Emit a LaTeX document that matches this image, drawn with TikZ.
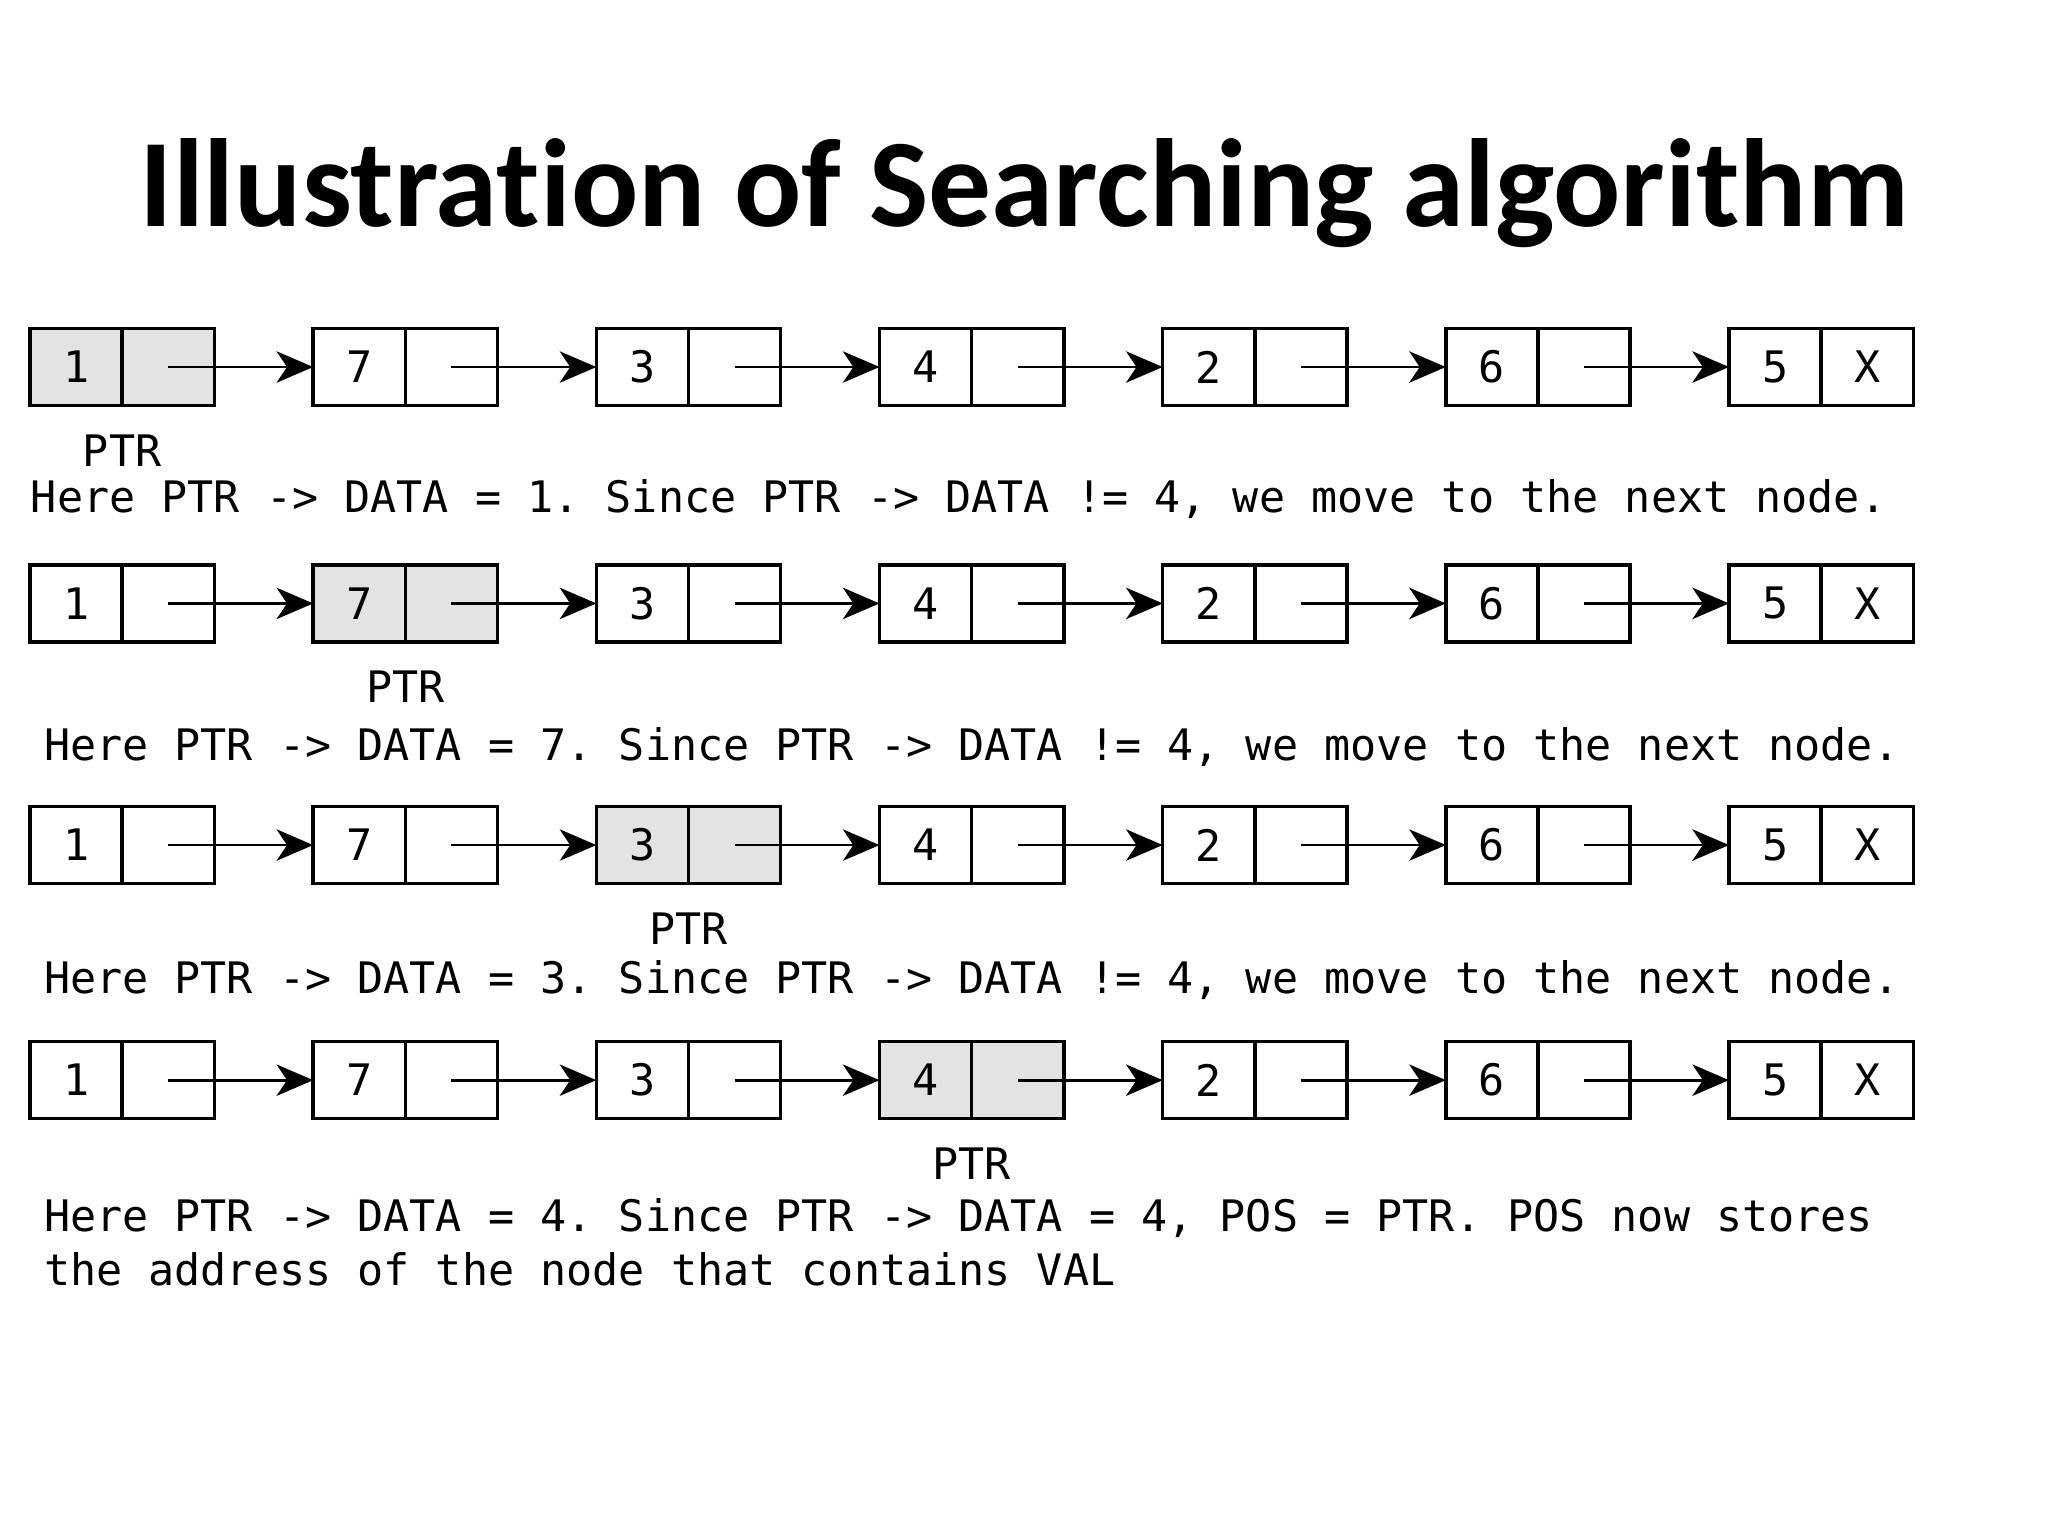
\documentclass[tikz,border=0pt]{standalone}
\usepackage{fontspec}
\setmainfont{Carlito}[Ligatures=NoCommon]
\newfontfamily\listfont{DejaVu Sans Mono}
\usetikzlibrary{arrows.meta,positioning}
\frenchspacing
\tikzset{
    cell/.style={
           rectangle,
           draw=black, line width=.75pt,
           minimum width=.705cm,
           minimum height=.59cm,
           inner sep=0pt, outer sep=0pt,
           font=\listfont\fontsize{9.45}{11}\selectfont
           },
    seen/.style={cell, fill=black!11},
    link/.style={-{Stealth[length=.28cm,width=.24cm,inset=.08cm]}, line width=.6pt},
    tag/.style={inner sep=0pt, font=\listfont\fontsize{9.45}{11}\selectfont},
    say/.style={anchor=west, inner sep=0pt, align=left,
           font=\listfont\fontsize{9.45}{11.7}\selectfont},
}

\begin{document}
\begin{tikzpicture}[x=.01cm,y=-.01cm]
    \useasboundingbox (0,0) rectangle (1568,1176);

    \node[font=\bfseries\fontsize{27.3}{32}\selectfont] (title) at (784,148)
        {Illustration of Searching algorithm};

    % one list per step, PTR on node r
    \foreach \r/\y in {1/281,2/462,3/647,4/827} {
        \foreach \v [count=\i] in {1,7,3,4,2,6,5} {
            \ifnum\i=\r \def\look{seen}\else\def\look{cell}\fi
            \node[\look] (d\r\i) at ({58.25+216.8*(\i-1)},\y) {\v};
            \node[\look, right=0pt of d\r\i] (p\r\i) {\ifnum\i=7 X\fi};
        }
        \foreach \i [evaluate=\i as \j using int(\i+1)] in {1,...,6}
            \draw[link] (p\r\i.center) -- (d\r\j.west);
        \node[tag] (ptr\r) at ([yshift=-.345cm]d\r\r.south east) {PTR};
    }

    \node[say] (say1) at (23,382)
        {Here PTR -> DATA = 1. Since PTR -> DATA != 4, we move to the next node.};
    \node[say] (say2) at (33,572)
        {Here PTR -> DATA = 7. Since PTR -> DATA != 4, we move to the next node.};
    \node[say] (say3) at (33,750)
        {Here PTR -> DATA = 3. Since PTR -> DATA != 4, we move to the next node.};
    \node[say, anchor=north west] (say4) at (33,917)
        {Here PTR -> DATA = 4. Since PTR -> DATA = 4, POS = PTR. POS now stores\\
         the address of the node that contains VAL};

\end{tikzpicture}
\end{document}
